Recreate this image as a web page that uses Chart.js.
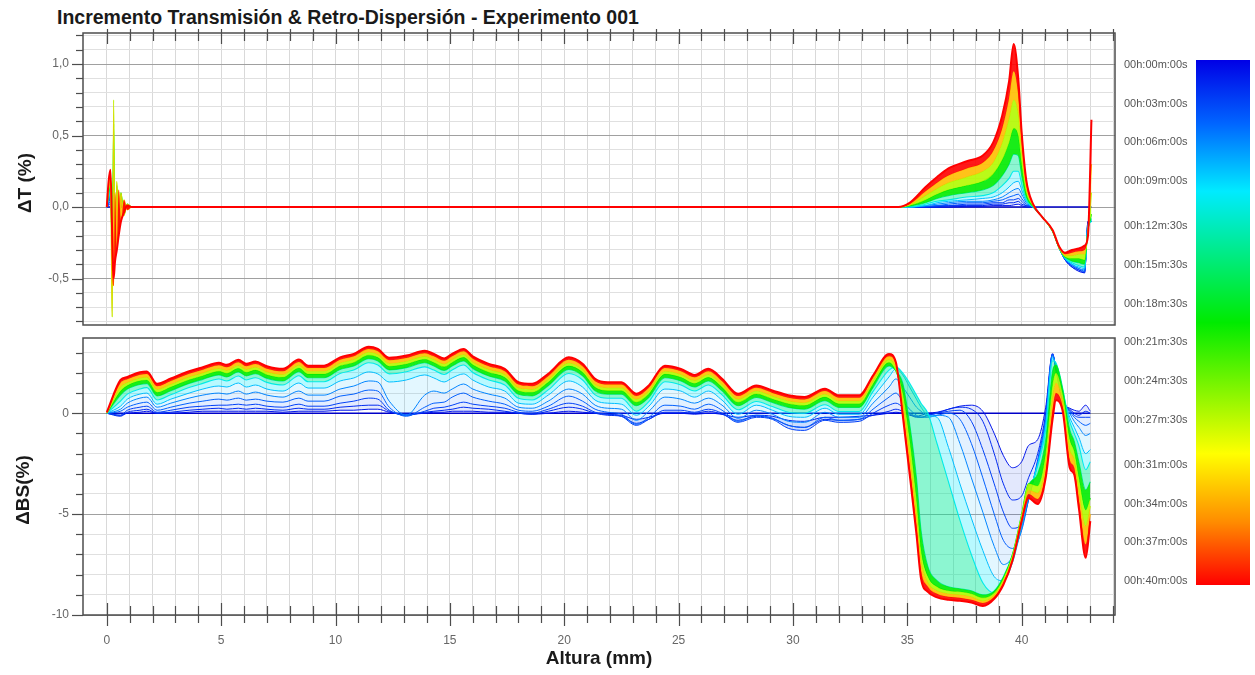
<!DOCTYPE html>
<html>
<head>
<meta charset="utf-8">
<script src="https://cdn.jsdelivr.net/npm/chart.js@4.4.1/dist/chart.umd.min.js"></script>
<style>
  html, body { margin: 0; padding: 0; background: #fff; }
  #wrap { position: relative; width: 1255px; height: 675px; overflow: hidden; background: #fff;
          font-family: "Liberation Sans", Arial, sans-serif; }
  #title { position: absolute; left: 57px; top: 8px; font-size: 19.5px; line-height: 19px; font-weight: bold;
           color: #1a1a1a; white-space: nowrap; }
  .ytitle { position: absolute; font-size: 19px; line-height: 22px; font-weight: bold; color: #1a1a1a;
            white-space: nowrap; transform: translate(-50%, -50%) rotate(-90deg); }
  #cbar { position: absolute; left: 1196px; top: 60px; width: 54px; height: 525px; }
  .cbl { position: absolute; left: 1124px; font-size: 11px; line-height: 13px; color: #555;
         white-space: nowrap; transform: translateY(-50%); }
  canvas { position: absolute; left: 0; }
</style>
</head>
<body>
<div id="wrap">
  <div id="title">Incremento Transmisión &amp; Retro-Dispersión - Experimento 001</div>
  <canvas id="chartT" width="1255" height="330" style="top:0px"></canvas>
  <canvas id="chartB" width="1255" height="345" style="top:330px"></canvas>
  <div class="ytitle" style="left:25px; top:183px;">ΔT (%)</div>
  <div class="ytitle" style="left:23px; top:490px;">ΔBS(%)</div>
  <div id="cbar"></div>
</div>
<script>
// ---------------------------------------------------------------------------
// Scan times (minutes) of the plotted profiles
const SCAN_MIN = [0, 1, 2, 3, 4.5, 6, 8, 10, 14, 20, 27, 33, 40];

// Colour bar time labels
const BAR_TIMES_MIN = [0, 3, 6, 9, 12.5, 15.5, 18.5, 21.5, 24.5, 27.5, 31, 34, 37, 40];
const BAR_LABELS = ['00h:00m:00s', '00h:03m:00s', '00h:06m:00s', '00h:09m:00s', '00h:12m:30s',
  '00h:15m:30s', '00h:18m:30s', '00h:21m:30s', '00h:24m:30s', '00h:27m:30s',
  '00h:31m:00s', '00h:34m:00s', '00h:37m:00s', '00h:40m:00s'];

// Axis tick labels
const DT_TICK_VALUES = [-0.5, 0, 0.5, 1.0];
const DT_TICK_LABELS = ['-0,5', '0,0', '0,5', '1,0'];
const DBS_TICK_VALUES = [-10, -5, 0];
const DBS_TICK_LABELS = ['-10', '-5', '0'];
const HEIGHT_TICK_VALUES = [0, 5, 10, 15, 20, 25, 30, 35, 40];
const HEIGHT_TICK_LABELS = ['0', '5', '10', '15', '20', '25', '30', '35', '40'];

// ---------------------------------------------------------------------------
// Transmission increment ΔT (%) vs height (mm)
const T_X = [0, 0.08, 0.16, 0.24, 0.3, 0.36, 0.44, 0.52, 0.62, 0.75, 0.9, 1.1,
  34.6, 35.1, 35.8, 36.3, 36.8, 37.6, 38.3, 38.75, 39.15, 39.45, 39.65, 39.85, 40.0, 40.2,
  40.5, 40.9, 41.35, 41.65, 41.9, 42.2, 42.5, 42.75, 42.9, 43.05];
const T_BASE_X = [0, 43.05];

const dT_00 = [0, 0];
const dT_01 = [0, 0.01, 0.02, -0.02, 0.03, -0.02, 0.01, -0.01, 0.01, 0, 0, 0,
  0, 0, 0, 0, 0, 0.005, 0.005, 0.01, 0.01, 0.01, 0.015, 0.02, 0.01, 0,
  0, -0.07, -0.17, -0.29, -0.37, -0.42, -0.45, -0.46, -0.1, -0.1];
const dT_02 = [0, 0.02, 0.04, -0.04, 0.06, -0.04, 0.02, -0.02, 0.01, 0, 0, 0,
  0, 0, 0, 0, 0.01, 0.01, 0.01, 0.02, 0.02, 0.03, 0.03, 0.04, 0.02, 0.01,
  0, -0.07, -0.17, -0.29, -0.37, -0.42, -0.44, -0.46, -0.1, -0.1];
const dT_03 = [0, 0.03, 0.06, -0.06, 0.09, -0.06, 0.03, -0.02, 0.02, 0.01, 0, 0,
  0, 0, 0, 0.01, 0.01, 0.02, 0.02, 0.03, 0.03, 0.05, 0.05, 0.06, 0.04, 0.01,
  0, -0.07, -0.17, -0.29, -0.37, -0.41, -0.44, -0.45, -0.11, -0.1];
const dT_045 = [0, 0.04, 0.08, -0.09, 0.12, -0.08, 0.04, -0.03, 0.02, 0.01, 0, 0,
  0, 0, 0.005, 0.01, 0.02, 0.03, 0.03, 0.04, 0.05, 0.07, 0.08, 0.09, 0.06, 0.02,
  0, -0.07, -0.17, -0.29, -0.36, -0.41, -0.43, -0.45, -0.12, -0.1];
const dT_06 = [0, 0.05, 0.1, -0.12, 0.16, -0.1, 0.05, -0.04, 0.03, 0.01, 0, 0,
  0, 0, 0.01, 0.02, 0.03, 0.04, 0.04, 0.05, 0.07, 0.1, 0.12, 0.13, 0.09, 0.03,
  0, -0.07, -0.17, -0.29, -0.36, -0.4, -0.43, -0.44, -0.12, -0.1];
const dT_08 = [0, 0.06, 0.12, -0.15, 0.2, -0.12, 0.06, -0.05, 0.03, 0.01, 0, 0,
  0, 0, 0.01, 0.03, 0.04, 0.05, 0.06, 0.07, 0.1, 0.14, 0.17, 0.18, 0.12, 0.04,
  0, -0.07, -0.17, -0.29, -0.36, -0.4, -0.42, -0.43, -0.13, -0.1];
const dT_10 = [0, 0.07, 0.15, -0.2, 0.25, -0.15, 0.08, -0.06, 0.04, 0.02, 0, 0,
  0, 0, 0.02, 0.04, 0.05, 0.07, 0.08, 0.1, 0.15, 0.2, 0.25, 0.25, 0.16, 0.05,
  0, -0.07, -0.17, -0.29, -0.36, -0.39, -0.41, -0.42, -0.14, -0.1];
const dT_14 = [0, 0.08, 0.18, -0.28, 0.35, -0.2, 0.1, -0.07, 0.05, 0.02, 0.01, 0,
  0, 0.005, 0.03, 0.06, 0.08, 0.1, 0.12, 0.15, 0.22, 0.3, 0.37, 0.36, 0.22, 0.07,
  0, -0.07, -0.17, -0.29, -0.35, -0.38, -0.39, -0.4, -0.15, -0.08];
const dT_20 = [0, 0.1, 0.2, -0.35, 0.58, -0.25, 0.15, -0.14, 0.1, -0.05, 0.02, 0,
  0, 0.01, 0.05, 0.09, 0.12, 0.15, 0.18, 0.23, 0.33, 0.45, 0.55, 0.5, 0.3, 0.1,
  0.01, -0.07, -0.17, -0.29, -0.35, -0.36, -0.36, -0.37, -0.16, -0.05];
const dT_27 = [0, 0.12, 0.15, -0.77, 0.75, -0.3, 0.18, -0.16, 0.1, -0.06, 0.02, 0,
  0, 0.015, 0.08, 0.13, 0.17, 0.21, 0.25, 0.31, 0.45, 0.62, 0.75, 0.65, 0.38, 0.13,
  0.01, -0.07, -0.17, -0.29, -0.34, -0.34, -0.33, -0.33, -0.17, 0.1];
const dT_33 = [0, 0.15, 0.25, -0.45, -0.55, 0.1, -0.3, 0.12, -0.1, 0.05, -0.02, 0,
  0, 0.02, 0.11, 0.17, 0.22, 0.27, 0.31, 0.39, 0.55, 0.76, 0.95, 0.78, 0.45, 0.16,
  0.02, -0.07, -0.16, -0.28, -0.33, -0.32, -0.31, -0.3, -0.18, 0.3];
const dT_40 = [0, 0.18, 0.26, -0.2, -0.5, -0.38, -0.3, -0.2, -0.1, -0.04, 0.01, 0,
  0, 0.03, 0.14, 0.21, 0.27, 0.32, 0.36, 0.45, 0.64, 0.88, 1.14, 0.9, 0.52, 0.19,
  0.02, -0.07, -0.16, -0.28, -0.32, -0.3, -0.29, -0.27, -0.2, 0.61];

// ---------------------------------------------------------------------------
// Backscattering increment ΔBS (%) vs height (mm)
const B_X = [0, 0.6, 0.9, 1.45, 1.75, 2.2, 2.8, 3.6, 4.2, 4.9,
  5.25, 5.75, 6.1, 6.5, 7.0, 7.7, 8.4, 8.8, 9.5, 10.2,
  10.8, 11.45, 11.85, 12.35, 13.1, 13.9, 14.3, 14.75, 15.1, 15.6,
  16.0, 16.7, 17.4, 18.0, 18.6, 19.3, 20.2, 20.8, 21.35, 21.9,
  22.5, 23.15, 23.7, 24.4, 25.1, 25.7, 26.3, 26.9, 27.6, 28.4,
  29.1, 29.8, 30.5, 31.4, 32.0, 32.9, 33.5, 34.2, 34.5, 34.8,
  35.1, 35.4, 35.6, 35.9, 36.3, 36.8, 37.3, 37.8, 38.3, 38.8,
  39.2, 39.6, 40.0, 40.3, 40.7, 41.05, 41.35, 41.5, 41.8, 42.1,
  42.3, 42.5, 42.8, 43.0];
const B_BASE_X = [0, 43.0];

const dBS_00 = [0, 0];
const dBS_01 = [0.0, -0.1, 0.0, 0.05, 0.1, 0.0, 0.0, 0.05, 0.1, 0.1,
  0.1, 0.1, 0.1, 0.1, 0.1, 0.05, 0.1, 0.1, 0.1, 0.15,
  0.15, 0.2, 0.2, 0.05, -0.05, 0.0, 0.05, 0.05, 0.1, 0.1,
  0.1, 0.05, 0.05, 0.0, -0.05, 0.0, 0.1, 0.05, 0.0, -0.05,
  -0.1, -0.3, -0.2, 0.0, 0.0, -0.05, 0.0, -0.05, -0.2, -0.1,
  -0.15, -0.35, -0.4, -0.2, -0.2, -0.15, -0.1, 0.0, 0.05, 0.0,
  -0.1, -0.15, -0.1, 0.0, 0.05, 0.2, 0.35, 0.4, 0.1, -1.0,
  -2.1, -2.7, -2.4, -1.6, -1.3, 0.3, 2.95, 2.1, 0.55, 0.25,
  0.15, 0.1, 0.4, 0.1];
const dBS_02 = [0.0, -0.15, 0.05, 0.15, 0.2, 0.0, 0.05, 0.15, 0.2, 0.25,
  0.2, 0.25, 0.2, 0.25, 0.2, 0.15, 0.25, 0.2, 0.2, 0.3,
  0.35, 0.4, 0.4, 0.1, -0.1, 0.05, 0.1, 0.15, 0.2, 0.3,
  0.25, 0.2, 0.1, 0.0, -0.05, 0.1, 0.3, 0.2, 0.0, -0.1,
  -0.15, -0.5, -0.3, 0.05, 0.05, 0.0, 0.1, -0.05, -0.35, -0.15,
  -0.25, -0.6, -0.7, -0.3, -0.35, -0.3, -0.1, 0.1, 0.2, 0.1,
  -0.05, -0.2, -0.2, -0.1, 0.0, 0.2, 0.3, 0.2, -0.4, -2.0,
  -3.5, -4.3, -4.1, -3.2, -2.0, 0.0, 2.95, 2.2, 0.6, 0.2,
  0.0, -0.1, 0.1, 0.0];
const dBS_03 = [0.0, -0.1, 0.15, 0.3, 0.35, 0.05, 0.15, 0.3, 0.35, 0.4,
  0.4, 0.45, 0.4, 0.45, 0.35, 0.3, 0.45, 0.35, 0.35, 0.5,
  0.6, 0.75, 0.7, 0.15, -0.1, 0.1, 0.25, 0.3, 0.4, 0.55,
  0.45, 0.35, 0.25, 0.05, 0.0, 0.2, 0.5, 0.35, 0.05, -0.05,
  -0.15, -0.6, -0.3, 0.15, 0.15, 0.05, 0.2, 0.0, -0.45, -0.2,
  -0.3, -0.75, -0.85, -0.35, -0.45, -0.4, 0.0, 0.4, 0.5, 0.3,
  0.0, -0.15, -0.2, -0.1, 0.0, 0.1, 0.15, -0.4, -1.8, -3.5,
  -4.9, -5.7, -5.5, -4.3, -2.3, -0.2, 2.9, 2.2, 0.65, 0.15,
  -0.1, -0.2, -0.2, -0.2];
const dBS_045 = [0.0, 0.1, 0.3, 0.5, 0.55, 0.15, 0.3, 0.5, 0.6, 0.7,
  0.65, 0.75, 0.65, 0.7, 0.6, 0.55, 0.75, 0.6, 0.6, 0.85,
  0.95, 1.15, 1.1, 0.3, -0.15, 0.3, 0.5, 0.55, 0.8, 1.0,
  0.8, 0.6, 0.45, 0.15, 0.1, 0.35, 0.85, 0.6, 0.2, 0.05,
  -0.05, -0.55, -0.2, 0.4, 0.35, 0.2, 0.45, 0.15, -0.4, -0.1,
  -0.25, -0.6, -0.7, -0.2, -0.35, -0.3, 0.2, 0.8, 1.0, 0.6,
  0.2, -0.1, -0.2, -0.2, -0.1, 0.0, -0.3, -1.5, -3.2, -5.0,
  -6.3, -6.7, -5.8, -4.3, -2.4, -0.3, 2.9, 2.2, 0.7, 0.1,
  -0.2, -0.4, -0.6, -0.5];
const dBS_06 = [0.0, 0.2, 0.5, 0.75, 0.8, 0.3, 0.5, 0.75, 0.9, 1.0,
  0.95, 1.1, 0.95, 1.05, 0.9, 0.8, 1.1, 0.9, 0.9, 1.2,
  1.35, 1.6, 1.55, 0.6, -0.1, 0.9, 1.1, 1.0, 1.2, 1.45,
  1.2, 0.95, 0.75, 0.3, 0.25, 0.6, 1.2, 0.95, 0.4, 0.25,
  0.2, -0.35, 0.1, 0.8, 0.7, 0.5, 0.75, 0.4, -0.25, 0.15,
  -0.05, -0.4, -0.45, 0.05, -0.2, -0.2, 0.5, 1.3, 1.7, 1.3,
  0.8, 0.3, 0.1, -0.15, -0.1, -0.2, -1.5, -3.2, -4.9, -6.6,
  -7.5, -7.1, -5.7, -4.2, -2.5, -0.4, 2.85, 2.3, 0.8, 0.0,
  -0.4, -0.7, -1.1, -1.0];
const dBS_08 = [0.0, 0.35, 0.7, 0.95, 1.0, 0.45, 0.7, 1.0, 1.2, 1.35,
  1.3, 1.5, 1.3, 1.4, 1.2, 1.1, 1.5, 1.25, 1.25, 1.6,
  1.75, 2.05, 1.95, 1.55, 1.65, 1.9, 1.75, 1.55, 1.75, 1.95,
  1.65, 1.3, 1.1, 0.5, 0.45, 0.9, 1.6, 1.3, 0.65, 0.5,
  0.45, -0.1, 0.35, 1.2, 1.1, 0.8, 1.1, 0.65, -0.05, 0.4,
  0.15, -0.15, -0.2, 0.25, -0.05, -0.05, 0.8, 1.8, 2.2, 1.9,
  1.3, 0.7, 0.3, -0.1, -0.2, -1.7, -3.5, -5.2, -6.8, -8.1,
  -8.3, -7.4, -5.6, -4.1, -2.5, -0.6, 2.75, 2.4, 0.9, -0.2,
  -0.7, -1.2, -2.0, -1.8];
const dBS_10 = [0.0, 0.6, 0.95, 1.2, 1.27, 0.66, 0.92, 1.28, 1.48, 1.7,
  1.6, 1.85, 1.65, 1.76, 1.53, 1.4, 1.86, 1.56, 1.56, 1.97,
  2.14, 2.5, 2.39, 1.95, 2.06, 2.3, 2.14, 1.92, 2.14, 2.39,
  2.02, 1.65, 1.4, 0.74, 0.66, 1.16, 1.97, 1.65, 0.91, 0.74,
  0.74, 0.1, 0.58, 1.56, 1.4, 1.1, 1.4, 0.91, 0.17, 0.58,
  0.33, 0.05, 0.0, 0.42, 0.09, 0.09, 1.07, 2.14, 2.3, 2.0,
  1.5, 0.9, 0.5, 0.0, -1.5, -3.4, -5.3, -7.0, -8.4, -8.9,
  -8.3, -7.1, -5.4, -4.0, -2.6, -0.8, 2.6, 2.5, 1.1, -0.4,
  -1.0, -1.6, -2.8, -2.4];
const dBS_14 = [0.0, 0.9, 1.2, 1.43, 1.47, 0.86, 1.12, 1.48, 1.68, 1.9,
  1.8, 2.05, 1.85, 1.96, 1.73, 1.6, 2.06, 1.76, 1.76, 2.17,
  2.34, 2.7, 2.59, 2.15, 2.26, 2.5, 2.34, 2.12, 2.34, 2.59,
  2.22, 1.85, 1.6, 0.94, 0.86, 1.36, 2.17, 1.85, 1.11, 0.94,
  0.94, 0.37, 0.78, 1.76, 1.6, 1.3, 1.6, 1.11, 0.37, 0.78,
  0.53, 0.29, 0.2, 0.62, 0.29, 0.29, 1.27, 2.34, 2.1, 1.5,
  -0.5, -3.2, -5.8, -7.6, -8.3, -8.6, -8.7, -8.8, -9.0, -8.8,
  -8.1, -7.0, -5.2, -3.6, -3.0, -1.3, 2.1, 2.4, 1.2, -0.8,
  -1.4, -2.4, -3.8, -3.4];
const dBS_20 = [0.0, 1.1, 1.38, 1.61, 1.65, 1.04, 1.3, 1.66, 1.86, 2.08,
  1.98, 2.23, 2.03, 2.14, 1.91, 1.78, 2.24, 1.94, 1.94, 2.35,
  2.52, 2.88, 2.77, 2.33, 2.44, 2.68, 2.52, 2.3, 2.52, 2.77,
  2.4, 2.03, 1.78, 1.12, 1.04, 1.54, 2.35, 2.03, 1.29, 1.12,
  1.12, 0.55, 0.96, 1.94, 1.78, 1.48, 1.78, 1.29, 0.55, 0.96,
  0.71, 0.47, 0.38, 0.8, 0.47, 0.47, 1.45, 2.52, 2.1, 1.0,
  -1.3, -4.3, -6.8, -8.1, -8.6, -8.8, -8.85, -8.95, -9.15, -8.9,
  -8.2, -7.0, -5.0, -3.5, -3.6, -2.0, 1.4, 2.0, 0.9, -1.3,
  -1.9, -3.2, -4.8, -4.2];
const dBS_27 = [0.0, 1.3, 1.52, 1.75, 1.79, 1.18, 1.44, 1.8, 2.0, 2.22,
  2.12, 2.37, 2.17, 2.28, 2.05, 1.92, 2.38, 2.08, 2.08, 2.49,
  2.66, 3.02, 2.91, 2.47, 2.58, 2.82, 2.66, 2.44, 2.66, 2.91,
  2.54, 2.17, 1.92, 1.26, 1.18, 1.68, 2.49, 2.17, 1.43, 1.26,
  1.26, 0.69, 1.1, 2.08, 1.92, 1.62, 1.92, 1.43, 0.69, 1.1,
  0.85, 0.61, 0.52, 0.94, 0.61, 0.61, 1.59, 2.66, 2.25, 0.6,
  -2.0, -5.0, -7.3, -8.4, -8.8, -8.95, -9.0, -9.1, -9.3, -9.0,
  -8.3, -7.1, -5.1, -3.8, -3.95, -2.5, 0.8, 1.5, 0.6, -1.8,
  -2.3, -3.8, -5.6, -4.6];
const dBS_33 = [0.0, 1.5, 1.68, 1.91, 1.95, 1.34, 1.6, 1.96, 2.16, 2.38,
  2.28, 2.53, 2.33, 2.44, 2.21, 2.08, 2.54, 2.24, 2.24, 2.65,
  2.82, 3.18, 3.07, 2.63, 2.74, 2.98, 2.82, 2.6, 2.82, 3.07,
  2.7, 2.33, 2.08, 1.42, 1.34, 1.84, 2.65, 2.33, 1.59, 1.42,
  1.42, 0.85, 1.26, 2.24, 2.08, 1.78, 2.08, 1.59, 0.85, 1.26,
  1.01, 0.77, 0.68, 1.1, 0.77, 0.77, 1.75, 2.82, 2.4, 0.2,
  -2.6, -5.6, -7.8, -8.6, -8.95, -9.1, -9.15, -9.25, -9.4, -9.1,
  -8.4, -7.2, -5.2, -4.0, -4.25, -2.9, 0.2, 1.0, 0.3, -2.3,
  -2.7, -4.3, -6.5, -5.0];
const dBS_40 = [0.05, 1.65, 1.8, 2.03, 2.07, 1.46, 1.72, 2.08, 2.28, 2.5,
  2.4, 2.65, 2.45, 2.56, 2.33, 2.2, 2.66, 2.36, 2.36, 2.77,
  2.94, 3.3, 3.19, 2.75, 2.86, 3.1, 2.94, 2.72, 2.94, 3.19,
  2.82, 2.45, 2.2, 1.54, 1.46, 1.96, 2.77, 2.45, 1.71, 1.54,
  1.54, 0.97, 1.38, 2.36, 2.2, 1.9, 2.2, 1.71, 0.97, 1.38,
  1.13, 0.89, 0.8, 1.22, 0.89, 0.89, 1.87, 2.94, 2.53, -0.1,
  -3.0, -6.0, -8.2, -8.85, -9.13, -9.25, -9.3, -9.38, -9.55, -9.2,
  -8.5, -7.3, -5.35, -4.2, -4.5, -3.2, -0.3, 0.64, 0.06, -2.7,
  -3.05, -4.7, -7.16, -5.35];

const DT_SERIES = [dT_00, dT_01, dT_02, dT_03, dT_045, dT_06, dT_08, dT_10, dT_14, dT_20, dT_27, dT_33, dT_40];
const DBS_SERIES = [dBS_00, dBS_01, dBS_02, dBS_03, dBS_045, dBS_06, dBS_08, dBS_10, dBS_14, dBS_20, dBS_27, dBS_33, dBS_40];

// ---------------------------------------------------------------------------
// Time colour scale (blue -> cyan -> green -> yellow -> red)
const CMAP = [
  [0.00, [0, 0, 230]],
  [0.12, [0, 100, 255]],
  [0.25, [0, 235, 255]],
  [0.50, [0, 235, 0]],
  [0.75, [255, 255, 0]],
  [0.88, [255, 140, 0]],
  [1.00, [255, 0, 0]]
];
function scanColour(f, a) {
  for (let k = 1; k < CMAP.length; k++) {
    if (f <= CMAP[k][0] + 1e-9) {
      const [f0, c0] = CMAP[k - 1];
      const [f1, c1] = CMAP[k];
      const u = (f - f0) / (f1 - f0);
      const c = c0.map((v, j) => Math.round(v + (c1[j] - v) * u));
      return `rgba(${c[0]},${c[1]},${c[2]},${a})`;
    }
  }
  return `rgba(255,0,0,${a})`;
}
// Opacity of the band between a profile and the one before it
function fillAlpha(f) {
  if (f < 0.22) return 0.11;
  if (f < 0.3) return 0.28;
  if (f < 0.4) return 0.45;
  return 0.9;
}

const TOTAL_MIN = 40;
const X_MIN = -1.04, X_MAX = 44.08;
const FONT = "'Liberation Sans', Arial, sans-serif";
Chart.defaults.font.family = FONT;

function buildSets(series, xs, baseXs) {
  const n = series.length;
  return series.map((vals, i) => {
    const f = SCAN_MIN[i] / TOTAL_MIN;
    const px = i === 0 ? baseXs : xs;
    return {
      label: SCAN_MIN[i] + ' min',
      data: px.map((x, k) => ({ x: x, y: vals[k] })),
      borderColor: i === 0 ? 'rgb(0,0,200)' : scanColour(f, 1),
      backgroundColor: scanColour(f, fillAlpha(f)),
      borderWidth: i === n - 1 ? 2 : (i === 0 ? 1.6 : (f < 0.22 ? 1 : 1.1)),
      fill: i <= 1 ? false : '-1',
      order: n - i,
      pointRadius: 0,
      cubicInterpolationMode: 'monotone'
    };
  });
}

function near(a, b) { return Math.abs(a - b) < 1e-6; }

// Frame and crossing tick marks around each plot area
const frameTicks = {
  id: 'frameTicks',
  afterDraw(chart, args, opts) {
    const { ctx, chartArea: a, scales } = chart;
    ctx.save();
    ctx.strokeStyle = '#4d4d4d';
    ctx.lineWidth = 1.2;
    for (const t of scales.x.ticks) {
      const px = Math.round(scales.x.getPixelForValue(t.value)) + 0.5;
      const major = near(t.value % 5, 0);
      ctx.beginPath();
      if (opts.edge === 'top') {
        ctx.moveTo(px, a.top - 4);
        ctx.lineTo(px, a.top + (major ? 11 : 8));
      } else {
        ctx.moveTo(px, a.bottom - (major ? 12 : 9));
        ctx.lineTo(px, a.bottom + (major ? 11 : 8));
      }
      ctx.stroke();
    }
    for (const t of scales.y.ticks) {
      const py = Math.round(scales.y.getPixelForValue(t.value)) + 0.5;
      const major = opts.majorY.some(v => near(v, t.value));
      ctx.beginPath();
      ctx.moveTo(a.left - (major ? 11 : 7), py);
      ctx.lineTo(a.left, py);
      ctx.stroke();
    }
    ctx.lineWidth = 1.5;
    ctx.strokeRect(a.left, a.top, a.right - a.left, a.bottom - a.top);
    ctx.restore();
  }
};

function heightTicks(s) {
  s.ticks = [];
  for (let v = 0; v <= 44; v++) s.ticks.push({ value: v });
}
// Fixed axis box sizes, with no label overhang added around the plot area
function fixBox(w, h) {
  return s => {
    if (w !== null) s.width = w;
    if (h !== null) s.height = h;
    s.paddingTop = 0; s.paddingBottom = 0; s.paddingLeft = 0; s.paddingRight = 0;
  };
}

const gridX = { color: '#d9d9d9', lineWidth: 1, drawTicks: false };

// ---------------------------------------------------------------------------
// ΔT panel
new Chart(document.getElementById('chartT'), {
  type: 'line',
  data: { datasets: buildSets(DT_SERIES, T_X, T_BASE_X) },
  plugins: [frameTicks],
  options: {
    responsive: false, animation: false, events: [],
    layout: { padding: { left: 0, right: 140, top: 0, bottom: 5 } },
    plugins: {
      legend: { display: false }, tooltip: { enabled: false },
      frameTicks: { edge: 'top', majorY: DT_TICK_VALUES }
    },
    scales: {
      x: {
        type: 'linear', position: 'top', min: X_MIN, max: X_MAX,
        afterBuildTicks: heightTicks,
        afterFit: fixBox(null, 33),
        ticks: { display: false },
        grid: gridX, border: { display: false }
      },
      y: {
        type: 'linear', min: -0.825, max: 1.217,
        afterBuildTicks: s => {
          s.ticks = [];
          for (let k = -8; k <= 12; k++) s.ticks.push({ value: k / 10 });
        },
        afterFit: fixBox(83, null),
        ticks: {
          autoSkip: false, padding: 14, color: '#666', font: { size: 12 },
          callback: v => {
            const j = DT_TICK_VALUES.findIndex(t => near(t, v));
            return j >= 0 ? DT_TICK_LABELS[j] : '';
          }
        },
        grid: {
          drawTicks: false, lineWidth: 1,
          color: c => DT_TICK_VALUES.some(t => near(t, c.tick.value)) ? '#a0a0a0' : '#e0e0e0'
        },
        border: { display: false }
      }
    }
  }
});

// ---------------------------------------------------------------------------
// ΔBS panel
new Chart(document.getElementById('chartB'), {
  type: 'line',
  data: { datasets: buildSets(DBS_SERIES, B_X, B_BASE_X) },
  plugins: [frameTicks],
  options: {
    responsive: false, animation: false, events: [],
    layout: { padding: { left: 0, right: 140, top: 8, bottom: 0 } },
    plugins: {
      legend: { display: false }, tooltip: { enabled: false },
      frameTicks: { edge: 'bottom', majorY: DBS_TICK_VALUES }
    },
    scales: {
      x: {
        type: 'linear', position: 'bottom', min: X_MIN, max: X_MAX,
        afterBuildTicks: heightTicks,
        afterFit: fixBox(null, 60),
        ticks: {
          autoSkip: false, maxRotation: 0, padding: 18, color: '#666', font: { size: 12 },
          callback: v => {
            const j = HEIGHT_TICK_VALUES.findIndex(t => near(t, v));
            return j >= 0 ? HEIGHT_TICK_LABELS[j] : '';
          }
        },
        grid: gridX, border: { display: false },
        title: {
          display: true, text: 'Altura (mm)', color: '#1a1a1a',
          font: { size: 19, weight: 'bold' }, padding: { top: 0, bottom: 5 }
        }
      },
      y: {
        type: 'linear', min: -10, max: 3.73,
        afterBuildTicks: s => {
          s.ticks = [];
          for (let v = -10; v <= 3; v++) s.ticks.push({ value: v });
        },
        afterFit: fixBox(83, null),
        ticks: {
          autoSkip: false, padding: 14, color: '#666', font: { size: 12 },
          callback: v => {
            const j = DBS_TICK_VALUES.findIndex(t => near(t, v));
            return j >= 0 ? DBS_TICK_LABELS[j] : '';
          }
        },
        grid: {
          drawTicks: false, lineWidth: 1,
          color: c => DBS_TICK_VALUES.some(t => near(t, c.tick.value)) ? '#a0a0a0' : '#e0e0e0'
        },
        border: { display: false }
      }
    }
  }
});

// ---------------------------------------------------------------------------
// Time colour bar with its labels
(function () {
  const bar = document.getElementById('cbar');
  const stops = CMAP.map(([f, c]) => `rgb(${c[0]},${c[1]},${c[2]}) ${f * 100}%`).join(', ');
  bar.style.background = `linear-gradient(to bottom, ${stops})`;
  const wrap = document.getElementById('wrap');
  const y0 = 64, y1 = 580;
  BAR_LABELS.forEach((txt, i) => {
    const d = document.createElement('div');
    d.className = 'cbl';
    d.textContent = txt;
    d.style.top = (y0 + (y1 - y0) * BAR_TIMES_MIN[i] / TOTAL_MIN) + 'px';
    wrap.appendChild(d);
  });
})();
</script>
</body>
</html>
